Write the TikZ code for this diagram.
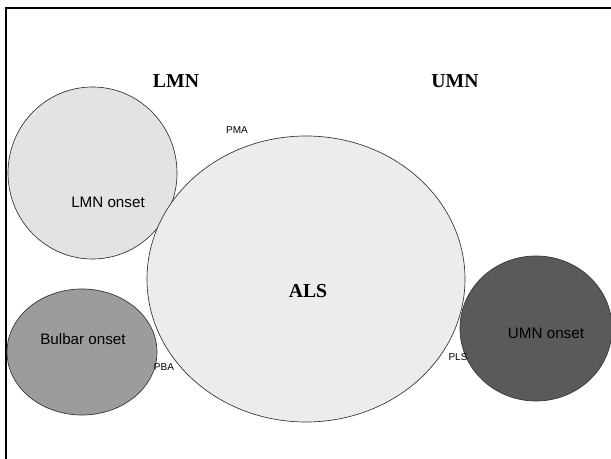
\documentclass[tikz,border=0pt]{standalone}
\usepackage{fontspec}
\setmainfont{Liberation Serif}
\setsansfont{Liberation Sans}
\usetikzlibrary{shapes.geometric}
\definecolor{lmnfill}{HTML}{E3E3E3}
\definecolor{alsfill}{HTML}{ECECEC}
\definecolor{bulbfill}{HTML}{9C9C9C}
\definecolor{umnfill}{HTML}{5A5A5A}
\tikzset{
  blob/.style={ellipse, draw=black!80, line width=0.5pt, inner sep=0pt},
  headlbl/.style={font=\fontsize{14.8}{16}\selectfont\bfseries\rmfamily, inner sep=0pt},
  onsetlbl/.style={font=\fontsize{11.4}{13}\selectfont\sffamily, inner sep=0pt},
  smalllbl/.style={font=\fontsize{7.5}{9}\selectfont\sffamily, inner sep=0pt},
  frameline/.style={line width=1.8pt, draw=black}
}
\begin{document}
\begin{tikzpicture}[x=0.75pt, y=-0.75pt]
\useasboundingbox (0,0) rectangle (611,459);
\fill[white] (0,0) rectangle (611,459);
\draw[frameline] (6,470) -- (6,8.3) -- (625,8.3);
% ellipses
\node[blob, fill=lmnfill, minimum width=126.75pt, minimum height=129pt] (lmnonset) at (92.5,173) {};
\node[blob, fill=alsfill, minimum width=238.5pt, minimum height=214.5pt] (als) at (306,279) {};
\node[blob, fill=bulbfill, minimum width=112.5pt, minimum height=94.5pt] (bulbar) at (82,352) {};
\node[blob, fill=umnfill, minimum width=114pt, minimum height=108.75pt] (umnonset) at (536,328.5) {};
% labels
\node[headlbl] (lmn) at (176,81) {LMN};
\node[headlbl] (umn) at (455,81) {UMN};
\node[headlbl] (alstxt) at (308,291) {ALS};
\node[onsetlbl] (lmnonsettxt) at (108,202) {LMN onset};
\node[onsetlbl] (bulbartxt) at (83,339) {Bulbar onset};
\node[onsetlbl] (umnonsettxt) at (546,333) {UMN onset};
\node[smalllbl] (pma) at (237,130) {PMA};
\node[smalllbl] (pba) at (164,367) {PBA};
\node[smalllbl] (pls) at (458,357) {PLS};
\end{tikzpicture}
\end{document}
